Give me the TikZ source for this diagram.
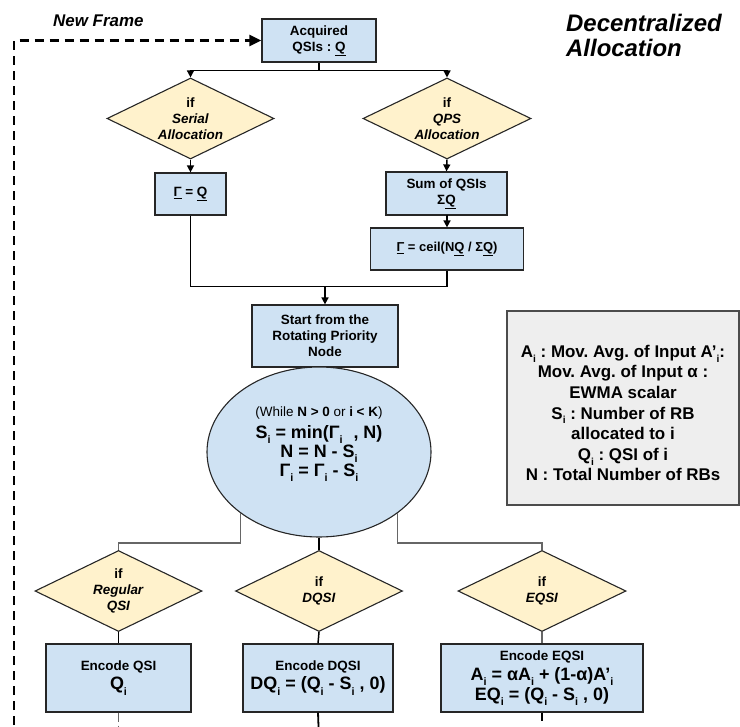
\documentclass[tikz,border=0pt]{standalone}
\usepackage{fontspec}
\setmainfont{Liberation Sans}
\usetikzlibrary{shapes.geometric,arrows.meta}
\definecolor{boxblue}{HTML}{CFE2F3}
\definecolor{diayel}{HTML}{FFF2CC}
\definecolor{leggray}{HTML}{EEEEEE}
\definecolor{linegray}{HTML}{666666}
\newcommand\setfs[2]{\fontsize{#1}{#2}\selectfont}
\newcommand\ssb[1]{\raisebox{-0.55ex}{\scalebox{0.6}{#1}}}
\frenchspacing
\begin{document}
\begin{tikzpicture}[x=1bp,y=-1bp,
  bluebox/.style={draw=black!85, line width=1.2bp, fill=boxblue, rectangle, align=center,
    font=\bfseries\setfs{13.5}{16}, inner sep=0pt},
  decision/.style={draw=black!85, line width=1.1bp, fill=diayel, diamond, aspect=2, align=center,
    font=\bfseries\setfs{13.5}{16}, inner sep=0pt},
  conn/.style={draw=black, line width=1.5bp},
  arr/.style={conn, -{Triangle[length=7bp,width=7bp]}},
  gconn/.style={draw=linegray, line width=1.5bp},
  loopline/.style={draw=black, line width=2.3bp, dash pattern=on 9bp off 6bp, -{Triangle[length=12bp,width=11bp]}}
]
\useasboundingbox (0,0) rectangle (740,727);

% titles
\node[anchor=base west, inner sep=0pt, font=\bfseries\itshape\setfs{17}{20}] (newframe) at (53,27) {New Frame};
\node[anchor=base west, inner sep=0pt, font=\bfseries\itshape\setfs{24}{25}] (title1) at (566,32) {Decentralized};
\node[anchor=base west, inner sep=0pt, font=\bfseries\itshape\setfs{24}{25}] (title2) at (566,57) {Allocation};

% top part
\node[bluebox, minimum width=114bp, minimum height=43bp] (acq) at (319,40.5) {Acquired\\QSIs : \underline{Q}};
\node[decision, minimum width=167bp, minimum height=81bp] (dsa) at (190.5,118.5) {if\\\textit{Serial}\\\textit{Allocation}};
\node[decision, minimum width=168bp, minimum height=81bp] (dqa) at (447,118.5) {if\\\textit{QPS}\\\textit{Allocation}};
\node[bluebox, minimum width=71bp, minimum height=42bp] (gq) at (190.5,194) {\underline{Γ} = \underline{Q}};
\node[bluebox, minimum width=121bp, minimum height=43bp] (sumq) at (446.5,193.5) {Sum of QSIs\\Σ\underline{Q}};
\node[bluebox, minimum width=153bp, minimum height=42bp, font=\bfseries\setfs{13}{16}] (ceil) at (447,249) {\underline{Γ} = ceil(N\underline{Q} / Σ\underline{Q})};
\node[bluebox, minimum width=146bp, minimum height=62bp] (start) at (325,336) {Start from the\\Rotating Priority\\Node};

% ellipse
\node[draw=black!85, line width=1.1bp, fill=boxblue, ellipse, minimum width=224bp, minimum height=170bp, inner sep=0pt] (ell) at (319,452) {};
\node[align=center, inner sep=0pt, font=\bfseries\setfs{18}{19}] (elltext) at (319,444)
 {{\mdseries\setfs{13.5}{16}(While \textbf{N > 0} or \textbf{i < K})}\\[3bp]
  S\ssb{i} = min(Γ\ssb{i}\,\, , N)\\ N = N - S\ssb{i}\\ Γ\ssb{i} = Γ\ssb{i} - S\ssb{i}};

% legend
\node[draw=black!70, line width=1.1bp, fill=leggray, rectangle, minimum width=232bp, minimum height=194bp, inner sep=0pt] (legend) at (623,408) {};
\node[align=center, inner sep=0pt, font=\bfseries\setfs{17}{20.7}] (legtext) at (623,413)
 {A\ssb{i} : Mov. Avg. of Input A’\ssb{i}:\\ Mov. Avg. of Input α :\\ EWMA scalar\\ S\ssb{i} : Number of RB\\ allocated to i\\ Q\ssb{i} : QSI of i\\ N : Total Number of RBs};

% bottom decisions
\node[decision, minimum width=167bp, minimum height=81bp] (dl) at (118.5,591) {if\\\textit{Regular}\\\textit{QSI}};
\node[decision, minimum width=167bp, minimum height=81bp] (dm) at (319,591) {if\\\textit{DQSI}};
\node[decision, minimum width=168bp, minimum height=81bp] (dr) at (542,591) {if\\\textit{EQSI}};

% bottom boxes
\node[bluebox, minimum width=145bp, minimum height=68bp, font=\bfseries\setfs{13.5}{19.5}] (bl) at (118.5,678) {Encode QSI\\{\setfs{18}{19.5}Q\ssb{i}}};
\node[bluebox, minimum width=150bp, minimum height=68bp, font=\bfseries\setfs{13.5}{19.5}] (bm) at (318,678) {Encode DQSI\\{\setfs{18}{19.5}DQ\ssb{i} = (Q\ssb{i} - S\ssb{i} , 0)}};
\node[bluebox, minimum width=202bp, minimum height=68bp, font=\bfseries\setfs{13.5}{20}] (br) at (542,678) {Encode EQSI\\{\setfs{18}{20}A\ssb{i} = αA\ssb{i} + (1-α)A’\ssb{i}}\\{\setfs{18}{20}EQ\ssb{i} = (Q\ssb{i} - S\ssb{i} , 0)}};

% connectors top
\coordinate (split) at ([yshift=-8bp]acq.south);
\draw[conn] (acq.south) -- (split);
\draw[arr] (split) -| (dsa.north);
\draw[arr] (split) -| (dqa.north);
\draw[arr] (dsa.south) -- (gq.north);
\draw[arr] (dqa.south) -- (sumq.north);
\draw[arr] (sumq.south) -- (ceil.south |- sumq.south) -- (ceil.north);
\coordinate (merge) at ([yshift=18bp]start.north);
\draw[conn] (gq.south) |- (merge);
\draw[conn] (ceil.south) |- (merge);
\draw[arr] (merge) -- (start.north);

% ellipse to decisions
\draw[gconn] (ell.218) |- ([yshift=7bp]dl.north) -- (dl.north);
\draw[conn] (ell.south) -- (dm.north);
\draw[gconn] (ell.322) |- ([yshift=7bp]dr.north) -- (dr.north);

% decisions to boxes
\draw[conn] (dl.south) -- (bl.north);
\draw[conn] (dm.south) -- (bm.north);
\draw[gconn] (dr.south) -- (br.north);

% leaving boxes
\coordinate (outl) at (118.5,740);
\coordinate (outm) at (319,740);
\coordinate (outr) at (542,740);
\draw[gconn, dash pattern=on 9bp off 4bp] (bl.south) -- (outl);
\draw[conn, line width=1.8bp] (bm.south) -- (outm);
\draw[conn, line width=1.8bp, dash pattern=on 8bp off 7bp] (br.south) -- (outr);

% new frame loop
\coordinate (loopin) at (14,740);
\draw[loopline] (loopin) |- (acq.west);
\end{tikzpicture}
\end{document}
